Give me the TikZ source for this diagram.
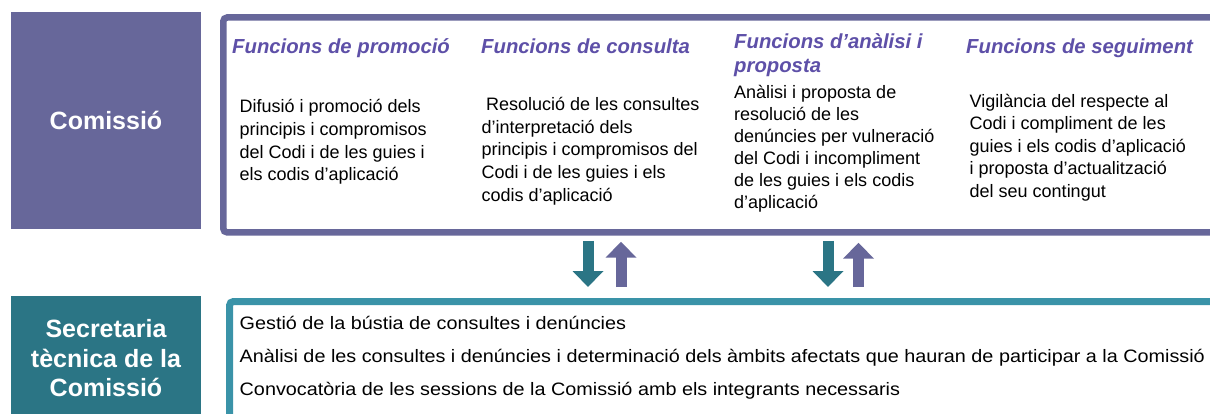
\documentclass[tikz,border=0pt]{standalone}
\usepackage{fontspec}
\setmainfont{Liberation Sans}
\newfontfamily\widesans[FakeStretch=1.1]{Liberation Sans}
\usetikzlibrary{arrows.meta}
\definecolor{purp}{RGB}{103,103,154}
\definecolor{tealbox}{RGB}{43,117,133}
\definecolor{tealframe}{RGB}{58,147,168}
\definecolor{headc}{RGB}{94,80,168}
\begin{document}
\begin{tikzpicture}[x=1pt,y=-1pt,
  body/.style={font=\fontsize{18}{22}\selectfont, anchor=base west, inner sep=0pt},
  widebody/.style={font=\widesans\fontsize{18}{22}\selectfont, anchor=base west, inner sep=0pt},
  headtxt/.style={font=\fontsize{20.3}{24}\selectfont\bfseries\itshape, text=headc, anchor=base west, inner sep=0pt},
  sidetxt/.style={font=\fontsize{25}{29.5}\selectfont\bfseries, text=white, align=center, inner sep=0pt},
  sidebox/.style={anchor=north west, inner sep=0pt, minimum width=190pt},
  frame/.style={anchor=north west, inner sep=0pt, rounded corners=4pt},
  updown/.style={line width=11pt, -{Triangle[width=30pt,length=16pt]}}
]
\useasboundingbox (0,0) rectangle (1210,414);
\fill[white] (0,0) rectangle (1210,414);
\clip (0,0) rectangle (1210,414);

% left boxes
\node[sidebox, fill=purp, minimum height=217pt] (comBox) at (11,12) {};
\node[sidetxt] (comTxt) at (106,120.5) {Comissió};
\node[sidebox, fill=tealbox, minimum height=140pt] (secBox) at (11,296) {};
\node[sidetxt] (secTxt) at (106,358.5) {Secretaria\\tècnica de la\\Comissió};

% frames
\node[frame, draw=purp, line width=6.5pt, minimum width=1020pt, minimum height=215pt] (topFrame) at (220,14.2) {};
\node[frame, draw=tealframe, line width=7pt, minimum width=1020pt, minimum height=150pt] (botFrame) at (226,298) {};

% headings
\node[headtxt] (h1) at (232,53.3) {Funcions de promoció};
\node[headtxt] (h2) at (481,53.3) {Funcions de consulta};
\node[headtxt] (h3a) at (734,49) {Funcions d’anàlisi i};
\node[headtxt] (h3b) at (734,73) {proposta};
\node[headtxt] (h4) at (966,53.3) {Funcions de seguiment};

% column texts
\foreach \t [count=\i from 0] in {Difusió i promoció dels,principis i compromisos,del Codi i de les guies i,els codis d’aplicació}
  \node[body] (ca\i) at (239.5,113+22.6*\i) {\t};
\node[body] (cb0) at (486,110.7) {Resolució de les consultes};
\foreach \t [count=\i from 1] in {d’interpretació dels,principis i compromisos del,Codi i de les guies i els,codis d’aplicació}
  \node[body] (cb\i) at (481.5,110.7+22.6*\i) {\t};
\foreach \t [count=\i from 0] in {Anàlisi i proposta de,resolució de les,denúncies per vulneració,del Codi i incompliment,de les guies i els codis,d’aplicació}
  \node[body] (cc\i) at (734,98.5+22*\i) {\t};
\foreach \t [count=\i from 0] in {Vigilància del respecte al,Codi i compliment de les,guies i els codis d’aplicació,i proposta d’actualització,del seu contingut}
  \node[body] (cd\i) at (969.5,107.5+22.5*\i) {\t};

% bottom list
\node[widebody] (s1) at (239.5,329) {Gestió de la bústia de consultes i denúncies};
\node[widebody] (s2) at (239.5,362.5) {Anàlisi de les consultes i denúncies i determinació dels àmbits afectats que hauran de participar a la Comissió};
\node[widebody] (s3) at (239.5,395.5) {Convocatòria de les sessions de la Comissió amb els integrants necessaris};

% arrows
\coordinate (d1s) at (588,241);   \coordinate (d1e) at (588,287);
\coordinate (u1s) at (621,287);   \coordinate (u1e) at (621,241.7);
\coordinate (d2s) at (828,241);   \coordinate (d2e) at (828,287);
\coordinate (u2s) at (858.5,287); \coordinate (u2e) at (858.5,242.7);
\draw[updown, tealbox] (d1s) -- (d1e);
\draw[updown, purp] (u1s) -- (u1e);
\draw[updown, tealbox] (d2s) -- (d2e);
\draw[updown, purp] (u2s) -- (u2e);
\end{tikzpicture}
\end{document}
